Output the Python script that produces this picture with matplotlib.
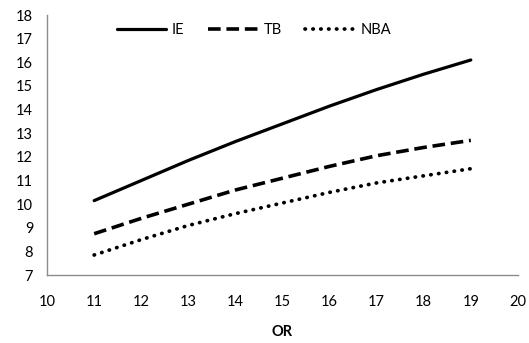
import matplotlib
matplotlib.use("Agg")
import matplotlib.pyplot as plt

plt.rcParams['font.family'] = ['Lato', 'DejaVu Sans']

# OR values and the three fitted series
x_or = [11, 12, 13, 14, 15, 16, 17, 18, 19]
ie = [10.15, 11.0, 11.85, 12.65, 13.4, 14.15, 14.85, 15.5, 16.1]
tb = [8.75, 9.4, 10.0, 10.6, 11.1, 11.6, 12.05, 12.4, 12.7]
nba = [7.85, 8.5, 9.1, 9.6, 10.05, 10.5, 10.9, 11.2, 11.5]

fig = plt.figure(figsize=(5.29, 3.43), dpi=100)
ax = fig.add_axes([0.089, 0.198, 0.89, 0.758])

ax.plot(x_or, ie, color='black', linewidth=2.3, label='IE', solid_capstyle='round')
ax.plot(x_or, tb, color='black', linewidth=2.6, linestyle=(0, (3.5, 1.6)), label='TB')
ax.plot(x_or, nba, color='black', linewidth=2.7, linestyle=(0, (0.1, 2.0)),
        dash_capstyle='round', label='NBA')

ax.set_xlim(10, 20)
ax.set_ylim(7, 18)
ax.set_xticks(range(10, 21))
ax.set_yticks(range(7, 19))
ax.tick_params(length=0, labelsize=10.5, pad=14)
ax.tick_params(axis='y', pad=10)

for s in ['top', 'right']:
    ax.spines[s].set_visible(False)
for s in ['left', 'bottom']:
    ax.spines[s].set_color('#8c8c8c')
    ax.spines[s].set_linewidth(1)

ax.set_xlabel('OR', fontweight='bold', fontsize=10.5, labelpad=12)

ax.legend(loc='upper left', bbox_to_anchor=(0.12, 1.02), ncol=3, frameon=False,
          fontsize=10.5, handlelength=3.4, handletextpad=0.4, columnspacing=1.6)

fig.savefig('out.png', dpi=100)
